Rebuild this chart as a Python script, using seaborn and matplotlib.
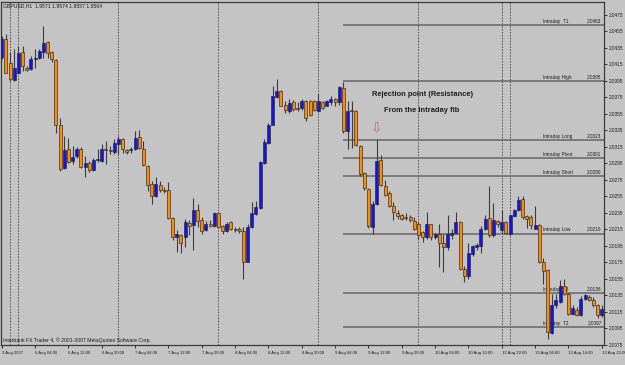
import numpy as np
import pandas as pd
import matplotlib
matplotlib.use("Agg")
import matplotlib.pyplot as plt
import seaborn as sns

# ---------------- data ----------------
opens = [2.0424, 2.0446, 2.0417, 2.0396, 2.0405, 2.0430, 2.0411, 2.0409, 2.0422, 2.0423,
         2.0430, 2.0442, 2.0430, 2.0420, 2.0342, 2.0290, 2.0312, 2.0298, 2.0304, 2.0313,
         2.0291, 2.0295, 2.0287, 2.0299, 2.0298, 2.0313, 2.0311, 2.0309, 2.0319, 2.0325,
         2.0311, 2.0311, 2.0312, 2.0327, 2.0313, 2.0292, 2.0270, 2.0255, 2.0269, 2.0263,
         2.0263, 2.0229, 2.0206, 2.0208, 2.0206, 2.0223, 2.0220, 2.0239, 2.0226, 2.0214,
         2.0222, 2.0219, 2.0235, 2.0219, 2.0213, 2.0224, 2.0215, 2.0216, 2.0213, 2.0176,
         2.0218, 2.0234, 2.0241, 2.0296, 2.0320, 2.0342, 2.0375, 2.0383, 2.0366, 2.0358,
         2.0369, 2.0362, 2.0362, 2.0370, 2.0370, 2.0370, 2.0358, 2.0369, 2.0365, 2.0369,
         2.0373, 2.0369, 2.0386, 2.0334, 2.0360, 2.0358, 2.0316, 2.0283, 2.0264, 2.0218,
         2.0246, 2.0299, 2.0268, 2.0259, 2.0243, 2.0235, 2.0232, 2.0230, 2.0230, 2.0225,
         2.0222, 2.0212, 2.0206, 2.0221, 2.0206, 2.0210, 2.0199, 2.0194, 2.0208, 2.0211,
         2.0224, 2.0167, 2.0158, 2.0185, 2.0194, 2.0195, 2.0215, 2.0229, 2.0208, 2.0225,
         2.0214, 2.0224, 2.0210, 2.0231, 2.0238, 2.0252, 2.0231, 2.0230, 2.0216, 2.0220,
         2.0176, 2.0166, 2.0089, 2.0124, 2.0127, 2.0146, 2.0137, 2.0113, 2.0118, 2.0111,
         2.0131, 2.0133, 2.0129, 2.0123, 2.0111]
highs = [2.0449, 2.0452, 2.0430, 2.0433, 2.0437, 2.0437, 2.0413, 2.0425, 2.0434, 2.0434,
         2.0462, 2.0443, 2.0431, 2.0421, 2.0350, 2.0328, 2.0326, 2.0316, 2.0315, 2.0315,
         2.0304, 2.0298, 2.0302, 2.0312, 2.0319, 2.0322, 2.0316, 2.0325, 2.0328, 2.0326,
         2.0312, 2.0315, 2.0334, 2.0336, 2.0322, 2.0293, 2.0274, 2.0278, 2.0274, 2.0266,
         2.0272, 2.0230, 2.0214, 2.0210, 2.0228, 2.0226, 2.0253, 2.0246, 2.0230, 2.0225,
         2.0226, 2.0236, 2.0236, 2.0220, 2.0224, 2.0225, 2.0218, 2.0218, 2.0218, 2.0222,
         2.0248, 2.0249, 2.0298, 2.0325, 2.0344, 2.0389, 2.0397, 2.0384, 2.0370, 2.0373,
         2.0372, 2.0369, 2.0373, 2.0372, 2.0372, 2.0372, 2.0379, 2.0370, 2.0372, 2.0377,
         2.0374, 2.0389, 2.0393, 2.0370, 2.0370, 2.0360, 2.0317, 2.0284, 2.0265, 2.0250,
         2.0325, 2.0305, 2.0275, 2.0262, 2.0248, 2.0238, 2.0234, 2.0235, 2.0233, 2.0230,
         2.0224, 2.0213, 2.0236, 2.0222, 2.0211, 2.0222, 2.0210, 2.0232, 2.0215, 2.0236,
         2.0225, 2.0171, 2.0198, 2.0196, 2.0198, 2.0219, 2.0232, 2.0268, 2.0247, 2.0227,
         2.0238, 2.0225, 2.0233, 2.0240, 2.0256, 2.0256, 2.0233, 2.0233, 2.0243, 2.0222,
         2.0180, 2.0167, 2.0137, 2.0137, 2.0154, 2.0155, 2.0138, 2.0123, 2.0121, 2.0134,
         2.0137, 2.0136, 2.0133, 2.0125, 2.0123]
lows = [2.0422, 2.0404, 2.0395, 2.0395, 2.0403, 2.0407, 2.0407, 2.0408, 2.0411, 2.0422,
        2.0423, 2.0423, 2.0418, 2.0332, 2.0286, 2.0288, 2.0295, 2.0294, 2.0302, 2.0290,
        2.0279, 2.0285, 2.0286, 2.0297, 2.0297, 2.0294, 2.0306, 2.0306, 2.0306, 2.0307,
        2.0306, 2.0308, 2.0311, 2.0313, 2.0292, 2.0262, 2.0246, 2.0254, 2.0260, 2.0259,
        2.0228, 2.0202, 2.0188, 2.0186, 2.0194, 2.0208, 2.0190, 2.0218, 2.0210, 2.0213,
        2.0218, 2.0218, 2.0217, 2.0210, 2.0212, 2.0214, 2.0212, 2.0211, 2.0155, 2.0175,
        2.0217, 2.0233, 2.0240, 2.0294, 2.0318, 2.0341, 2.0374, 2.0364, 2.0356, 2.0356,
        2.0358, 2.0358, 2.0360, 2.0346, 2.0352, 2.0358, 2.0357, 2.0361, 2.0364, 2.0366,
        2.0365, 2.0366, 2.0332, 2.0312, 2.0314, 2.0316, 2.0280, 2.0263, 2.0217, 2.0210,
        2.0245, 2.0268, 2.0256, 2.0242, 2.0226, 2.0228, 2.0226, 2.0226, 2.0224, 2.0214,
        2.0203, 2.0200, 2.0204, 2.0202, 2.0204, 2.0170, 2.0163, 2.0190, 2.0204, 2.0210,
        2.0166, 2.0151, 2.0155, 2.0183, 2.0190, 2.0186, 2.0214, 2.0206, 2.0206, 2.0218,
        2.0211, 2.0210, 2.0208, 2.0230, 2.0237, 2.0228, 2.0217, 2.0216, 2.0215, 2.0174,
        2.0149, 2.0082, 2.0088, 2.0120, 2.0126, 2.0136, 2.0111, 2.0111, 2.0110, 2.0110,
        2.0130, 2.0128, 2.0121, 2.0108, 2.0109]
closes = [2.0446, 2.0405, 2.0397, 2.0410, 2.0429, 2.0413, 2.0408, 2.0422, 2.0423, 2.0431,
          2.0441, 2.0429, 2.0421, 2.0342, 2.0288, 2.0311, 2.0297, 2.0303, 2.0313, 2.0291,
          2.0296, 2.0287, 2.0299, 2.0300, 2.0313, 2.0311, 2.0310, 2.0320, 2.0325, 2.0312,
          2.0309, 2.0313, 2.0326, 2.0314, 2.0293, 2.0269, 2.0255, 2.0270, 2.0263, 2.0262,
          2.0229, 2.0206, 2.0210, 2.0198, 2.0224, 2.0219, 2.0238, 2.0225, 2.0213, 2.0222,
          2.0219, 2.0235, 2.0218, 2.0213, 2.0222, 2.0215, 2.0214, 2.0213, 2.0176, 2.0218,
          2.0235, 2.0242, 2.0297, 2.0321, 2.0342, 2.0377, 2.0383, 2.0365, 2.0360, 2.0368,
          2.0361, 2.0361, 2.0370, 2.0350, 2.0354, 2.0360, 2.0370, 2.0362, 2.0371, 2.0373,
          2.0369, 2.0387, 2.0334, 2.0358, 2.0358, 2.0317, 2.0282, 2.0265, 2.0219, 2.0246,
          2.0298, 2.0269, 2.0257, 2.0243, 2.0236, 2.0231, 2.0228, 2.0229, 2.0226, 2.0216,
          2.0208, 2.0206, 2.0221, 2.0206, 2.0210, 2.0198, 2.0194, 2.0210, 2.0211, 2.0224,
          2.0167, 2.0159, 2.0186, 2.0195, 2.0196, 2.0216, 2.0228, 2.0208, 2.0227, 2.0221,
          2.0224, 2.0211, 2.0232, 2.0238, 2.0251, 2.0230, 2.0228, 2.0220, 2.0220, 2.0176,
          2.0165, 2.0091, 2.0124, 2.0129, 2.0146, 2.0137, 2.0113, 2.0120, 2.0111, 2.0131,
          2.0135, 2.0129, 2.0123, 2.0111, 2.0119]

time_labels = ["3 Aug 2007", "6 Aug 04:00", "6 Aug 12:00", "6 Aug 20:00", "7 Aug 04:00",
               "7 Aug 12:00", "7 Aug 20:00", "8 Aug 04:00", "8 Aug 12:00", "8 Aug 20:00",
               "9 Aug 04:00", "9 Aug 12:00", "9 Aug 20:00", "10 Aug 04:00", "10 Aug 12:00",
               "12 Aug 22:00", "13 Aug 06:00", "13 Aug 14:00", "13 Aug 22:00"]
label_every = 8
day_separators = [2, 4, 28, 52, 76, 100, 120, 122]

level_names = ["Intraday  T1", "Intraday High", "Intraday Long", "Intraday Pivot",
               "Intraday Short", "Intraday Low", "Intraday  T3", "Intraday  T2"]
level_values = [2.0463, 2.0395, 2.0323, 2.0301, 2.0280, 2.0210, 2.0138, 2.0097]
level_texts = ["2.0463", "2.0395", "2.0323", "2.0301", "2.0280", "2.0210", "2.0138", "2.0097"]
level_start_bar = 82

price_ticks = [2.0075, 2.0095, 2.0115, 2.0135, 2.0155, 2.0175, 2.0195, 2.0215, 2.0235,
               2.0255, 2.0275, 2.0295, 2.0315, 2.0335, 2.0355, 2.0375, 2.0395, 2.0415,
               2.0435, 2.0455, 2.0475]

header = "GBPUSD,H1  1.9571 1.9574 1.9557 1.9564"
footer = "Interbank FX Trader 4, \u00a9 2001-2007 MetaQuotes Software Corp."
note1 = "Rejection point (Resistance)"
note2 = "From the Intraday fib"

# ---------------- style ----------------
BG = "#c4c4c4"
UP = "#1414e6"
DOWN = "#ff8c00"
sns.set_theme(style="white")
plt.rcParams["font.family"] = ["Liberation Sans", "DejaVu Sans"]

df = pd.DataFrame({"open": opens, "high": highs, "low": lows, "close": closes})
df["bar"] = np.arange(len(df))
df["up"] = df["close"] >= df["open"]

W, H = 625, 365
fig = plt.figure(figsize=(W / 100, H / 100), dpi=100, facecolor=BG)
ax = fig.add_axes([1 / W, 20 / H, 603 / W, 343 / H], facecolor=BG)

xmax = len(df) - 0.45
ax.set_xlim(-0.17, xmax)
ax.set_ylim(2.00810, 2.04905)

# period separators
for s in day_separators:
    ax.axvline(s, color="#4a4a4a", lw=0.7, ls=(0, (1.5, 1.5)), zorder=1)

# level lines
for name, val, txt in zip(level_names, level_values, level_texts):
    ax.hlines(val, level_start_bar, xmax, color="#747474", lw=1.3, zorder=1)
    ax.annotate(name, (129.9, val), xytext=(0, 0.8), textcoords="offset points",
                ha="left", va="bottom", fontsize=3.4, color="#1a1a1a", zorder=1)
    ax.annotate(txt, (xmax, val), xytext=(-1.8, 0.8), textcoords="offset points",
                ha="right", va="bottom", fontsize=3.4, color="#1a1a1a", zorder=1)

# candles
ax.vlines(df["bar"], df["low"], df["high"], colors="#3c3c3c", lw=0.8, zorder=2)
body_lo = np.minimum(df["open"], df["close"])
body_h = np.maximum((df["close"] - df["open"]).abs(), 0.00003)
ax.bar(df["bar"], body_h, bottom=body_lo, width=0.74,
       color=np.where(df["up"], UP, DOWN), edgecolor="#262626", linewidth=0.45, zorder=3)

# axes / ticks
ax.yaxis.tick_right()
ax.set_yticks(price_ticks)
ax.set_yticklabels([f"{p:.4f}" for p in price_ticks])
ax.tick_params(axis="y", right=True, length=2.5, width=0.6, pad=1.2, labelsize=3.4,
               colors="#1a1a1a")
xt = np.arange(0, len(df), label_every)
ax.set_xticks(xt)
ax.set_xticklabels(time_labels, ha="left")
ax.tick_params(axis="x", bottom=True, length=2.5, width=0.6, pad=2.0, labelsize=3.1,
               colors="#1a1a1a")
for sp in ax.spines.values():
    sp.set_color("#3a3a3a")
    sp.set_linewidth(0.9)

fig.text(3 / W, 1 - 5.5 / H, header, fontsize=3.7, color="#1a1a1a", va="center", ha="left")
fig.text(3 / W, 1 - 340 / H, footer, fontsize=3.7, color="#1a1a1a", va="center", ha="left")
fig.text(423 / W, 1 - 95 / H, note1, fontsize=5.4, fontweight="bold", color="#1e1e1e",
         ha="center", va="center")
fig.text(422 / W, 1 - 111 / H, note2, fontsize=5.4, fontweight="bold", color="#1e1e1e",
         ha="center", va="center")
fig.text(376 / W, 1 - 127 / H, "\u21e9", fontsize=10, color="#e05a5a", ha="center",
         va="center", family=["DejaVu Sans"])

fig.savefig("out.png", dpi=100, facecolor=BG)
